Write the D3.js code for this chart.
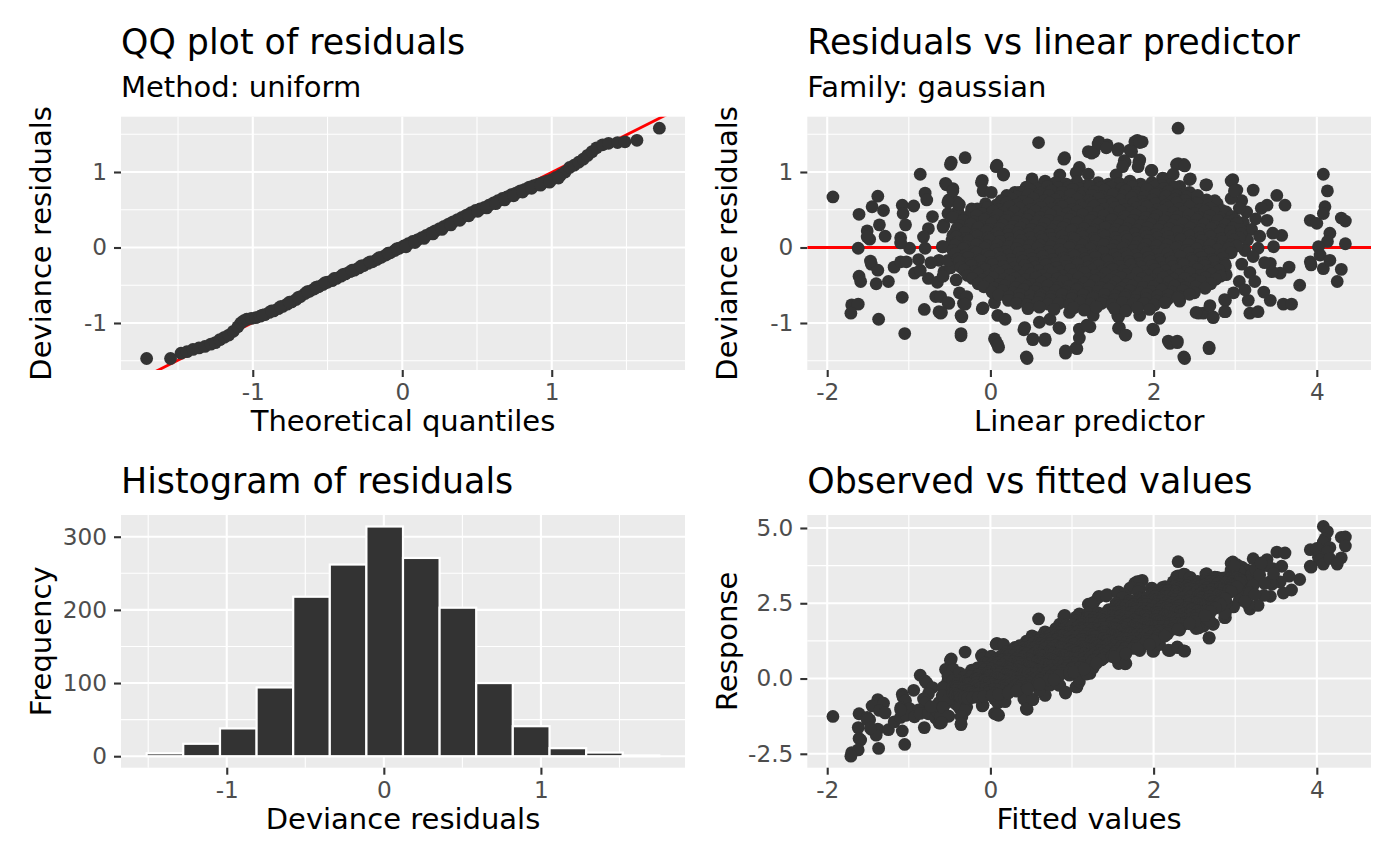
<!DOCTYPE html>
<html>
<head>
<meta charset="utf-8">
<script src="https://cdn.jsdelivr.net/npm/d3@7"></script>
<style>
  body { margin: 0; background: #fff; }
  text { font-family: "DejaVu Sans", sans-serif; }
</style>
</head>
<body>
<svg id="chart" width="1400" height="866"></svg>
<script>
// ---- Data ----

// QQ plot: [theoretical quantile, deviance residual]
const qqPoints = [
  [-1.71,-1.47],[-1.55,-1.47],[-1.48,-1.40],[-1.44,-1.38],[-1.40,-1.35],[-1.36,-1.33],[-1.32,-1.31],[-1.28,-1.28],
  [-1.25,-1.26],[-1.22,-1.22],[-1.19,-1.19],[-1.16,-1.16],[-1.13,-1.11],[-1.10,-1.05],[-1.08,-1.00],[-1.06,-0.97],
  [-1.04,-0.95],[-1.01,-0.94],[-0.98,-0.93],[-0.95,-0.91],[-0.92,-0.89],[-0.89,-0.86],[-0.86,-0.84],[-0.83,-0.81],
  [-0.80,-0.78],[-0.77,-0.75],[-0.74,-0.72],[-0.71,-0.69],[-0.68,-0.65],[-0.65,-0.61],[-0.62,-0.58],[-0.59,-0.55],
  [-0.56,-0.52],[-0.53,-0.49],[-0.50,-0.46],[-0.47,-0.44],[-0.44,-0.41],[-0.41,-0.38],[-0.38,-0.35],[-0.35,-0.32],
  [-0.32,-0.30],[-0.29,-0.27],[-0.26,-0.24],[-0.23,-0.21],[-0.20,-0.19],[-0.17,-0.16],[-0.14,-0.13],[-0.11,-0.10],
  [-0.08,-0.07],[-0.05,-0.04],[-0.02,-0.01],[0.01,0.02],[0.04,0.05],[0.07,0.08],[0.10,0.10],[0.13,0.13],
  [0.16,0.16],[0.19,0.19],[0.22,0.22],[0.25,0.25],[0.28,0.28],[0.31,0.31],[0.34,0.34],[0.37,0.37],
  [0.40,0.40],[0.43,0.43],[0.46,0.46],[0.49,0.49],[0.52,0.51],[0.55,0.53],[0.58,0.56],[0.61,0.59],
  [0.64,0.62],[0.67,0.65],[0.70,0.67],[0.73,0.70],[0.76,0.72],[0.79,0.75],[0.82,0.77],[0.85,0.80],
  [0.88,0.82],[0.91,0.84],[0.94,0.86],[0.97,0.88],[1.00,0.90],[1.03,0.93],[1.06,0.96],[1.09,1.00],
  [1.12,1.06],[1.15,1.09],[1.18,1.13],[1.21,1.17],[1.24,1.22],[1.27,1.27],[1.30,1.32],[1.34,1.36],
  [1.38,1.38],[1.44,1.39],[1.49,1.40],[1.57,1.42],[1.72,1.58],
  // points lying just off the main band
  [-0.935,-0.895],[-0.875,-0.84],[-0.815,-0.785],[-0.755,-0.725],[-0.695,-0.66],[-0.635,-0.585],[-0.575,-0.525],
  [-0.515,-0.465],[-0.455,-0.41],[-0.395,-0.355],[-0.335,-0.30],[-0.275,-0.245],[-0.215,-0.19],[-0.155,-0.135],
  [-0.095,-0.075],[-0.035,-0.015],
  [0.025,0.01],[0.085,0.065],[0.145,0.12],[0.205,0.18],[0.265,0.24],[0.325,0.30],[0.385,0.36],[0.445,0.42],
  [0.505,0.48],[0.565,0.525],[0.625,0.58],[0.685,0.63],[0.745,0.685],[0.805,0.735],[0.865,0.785],[0.925,0.825],
  [0.985,0.865],[1.045,0.92]
];
const qqLine = { intercept: 0, slope: 0.995 };

// Linear predictor (= fitted value) and deviance residual of each observation
const lpResid = [
  // sparse left and bottom / top edges
  [-1.93,0.67],[-1.61,0.44],[-1.38,0.68],[-1.45,0.54],[-1.31,0.49],[-1.51,0.22],[-1.36,0.30],[-1.48,0.11],[-1.29,0.15],[-1.62,-0.01],
  [-1.46,-0.22],[-1.38,-0.30],[-1.61,-0.38],[-1.59,-0.45],[-1.40,-0.48],[-1.25,-0.45],[-1.18,-0.26],[-1.10,-0.19],[-1.03,-0.19],[-1.70,-0.76],
  [-1.62,-0.75],[-1.71,-0.87],[-1.37,-0.95],[-1.08,-0.66],[-1.05,-1.14],[-0.86,0.97],[-1.08,0.56],[-0.94,0.55],[-1.07,0.45],[-1.04,0.30],
  [-1.10,0.13],[-0.99,-0.01],[-0.80,0.72],[-0.78,0.63],[-0.71,0.41],[-0.76,0.25],[-0.82,0.14],[-0.80,-0.01],[-0.88,-0.16],[-0.93,-0.34],
  [-0.86,-0.30],[-0.76,-0.41],[-0.67,-0.65],[-0.81,-0.82],[-0.61,-0.87],[-0.51,-0.74],[-0.48,1.13],[-0.31,1.19],[-0.55,0.85],[-0.46,0.78],
  [-0.51,0.63],[-0.41,0.60],[-0.57,0.30],[-0.45,0.41],[-0.59,0.01],[-0.63,-0.17],[-0.57,-0.32],[-0.65,-0.46],[-0.36,-1.17],[-0.33,-0.74],
  [-0.35,-0.92],[-0.10,0.89],[0.08,1.09],[0.16,0.96],[-0.10,-0.81],[0.07,-1.25],[0.10,-1.32],[0.59,1.39],[0.45,-1.47],[0.41,-1.09],
  [0.52,-1.22],[0.67,-1.23],[0.85,-1.07],[0.92,-1.40],[1.06,-1.34],[0.91,1.19],[1.20,1.27],
  [-0.42,0.22],[-0.47,0.10],[-0.44,-0.08],[-0.49,-0.27],[-0.42,-0.43],[-0.38,-0.60],[-0.40,0.48],[-0.52,0.45],
  [-0.73,-0.20],[-0.63,-0.85],[-0.61,-0.65],[-0.29,-0.65],[-1.51,0.14],[-1.10,0.06],[-1.47,-0.18],
  // right side and upper / lower tails
  [2.30,1.58],[1.80,1.42],[1.86,1.40],[1.33,1.40],[1.43,1.36],[1.57,1.31],[1.27,1.27],[1.71,1.29],[1.65,1.13],[1.82,1.13],
  [2.30,1.11],[2.37,1.10],[1.98,1.02],[2.14,0.91],[2.45,0.91],[2.65,0.83],[2.97,0.90],[3.02,0.76],[3.22,0.76],[3.51,0.69],
  [3.61,0.56],[3.39,0.56],[4.08,0.97],[4.13,0.75],[4.10,0.54],[4.08,0.45],[3.92,0.36],[4.00,0.32],[4.30,0.39],[4.35,0.35],
  [4.16,0.19],[4.13,0.08],[4.35,0.05],[4.02,0.01],[4.04,-0.10],[3.92,-0.19],[3.93,-0.23],[4.08,-0.28],[4.16,-0.17],[4.30,-0.29],
  [4.25,-0.45],[3.79,-0.50],[3.59,-0.75],[3.69,-0.75],[3.43,-0.70],[3.35,-0.59],[3.66,-0.26],[3.55,-0.34],[3.45,-0.32],[3.43,-0.21],
  [3.57,0.16],[3.46,0.19],[3.39,0.36],[3.47,0.01],[3.28,-0.01],[3.18,-0.87],[3.28,-0.85],[3.16,-0.70],[2.88,-0.85],[2.88,-0.70],
  [2.73,-0.92],[2.61,-0.87],[2.55,-0.87],[2.68,-1.34],[2.38,-1.47],[2.20,-1.27],[2.29,-1.26],[2.00,-1.09],[2.07,-0.94],[1.65,-1.16],
  [1.57,-1.07],[1.57,-0.92],[1.22,-1.05],
  [3.08,0.62],[3.14,0.47],[3.10,0.33],[3.20,0.24],[3.15,0.10],[3.25,0.38],[3.30,0.15],[3.12,-0.04],[3.22,-0.12],[3.08,-0.22],
  [3.18,-0.33],[3.05,-0.45],[3.12,-0.56],[2.98,-0.60],[3.32,0.52],[3.36,-0.20],[3.24,-0.45],[2.95,0.65],[3.05,0.52],
  // ragged border of the dense cloud
  [-0.49,1.10],[0.07,1.07],[0.16,0.97],[0.90,1.17],[1.32,1.37],[1.42,1.32],[1.56,1.29],[1.24,1.25],[1.77,1.40],[1.83,1.39],
  [1.73,1.27],[1.64,1.15],[1.62,1.07],[1.83,1.16],[1.81,1.07],[1.97,1.02],[1.54,0.96],[1.09,1.06],[1.05,0.99],[1.20,0.97],
  [0.85,0.96],[0.51,0.91],[0.67,0.88],[2.28,1.10],[2.38,1.08],[2.11,0.92],[2.24,0.97],[2.20,0.83],[2.32,0.81],[2.44,0.90],
  [2.64,0.83],[2.75,0.62],[2.95,0.88],[2.99,0.75],[-0.11,0.86],[-0.09,0.75],[0.01,0.73],[-0.54,0.83],[-0.46,0.75],[0.30,0.73],
  [-0.52,0.60],[-0.38,0.57],[-0.46,0.40],[-0.58,0.27],[-0.46,0.16],[-0.58,0.01],[-0.52,-0.17],[-0.58,-0.38],[-0.52,-0.73],[-0.60,-0.86],
  [-0.31,-0.75],[-0.36,-0.90],[-0.36,-1.14],[-0.23,0.51],[-0.09,-0.80],[0.05,-0.73],[0.09,-0.90],[0.18,-0.95],[0.05,-1.21],[0.09,-1.29],
  [0.42,-1.06],[0.44,-1.45],[0.52,-1.21],[0.67,-1.21],[0.60,-0.99],[0.73,-0.95],[0.84,-1.06],[0.92,-1.37],[1.05,-1.33],[1.09,-1.20],
  [1.09,-1.08],[1.18,-1.03],[0.97,-0.86],[1.26,-0.90],[1.56,-0.90],[1.58,-1.06],[1.66,-1.16],[1.83,-0.90],[1.99,-1.08],[2.07,-0.93],
  [2.18,-1.24],[2.29,-1.24],[2.37,-1.45],[2.68,-1.32],[2.32,-0.71],[2.52,-0.86],[2.73,-0.93],[2.87,-0.85],[2.69,-0.77],[2.87,-0.69],
  [2.89,-0.36],[0.80,0.86],[0.93,0.84],[1.32,0.86],[1.45,0.84],
  // dense core
  [0.52,0.86],[0.66,0.84],[1.06,0.87],[1.19,0.83],[1.58,0.85],[1.71,0.88],[1.84,0.84],[1.98,0.86],[2.10,0.82],
  [0.44,0.80],[0.57,0.78],[0.70,0.81],[0.83,0.79],[0.96,0.80],[1.09,0.78],[1.22,0.81],[1.35,0.79],[1.48,0.80],[1.61,0.78],
  [1.74,0.81],[1.87,0.79],[2.00,0.80],[2.13,0.78],[2.26,0.80],
  [0.36,0.73],[0.49,0.76],[0.61,0.72],[0.75,0.75],[0.88,0.73],[1.01,0.77],[1.13,0.72],[1.27,0.74],[1.40,0.76],[1.52,0.71],
  [1.66,0.75],[1.79,0.73],[1.92,0.77],[2.04,0.72],[2.18,0.74],[2.31,0.70],[2.44,0.73],
  [0.20,0.69],[0.33,0.67],[0.46,0.70],[0.59,0.68],[0.72,0.69],[0.85,0.67],[0.98,0.70],[1.11,0.68],[1.24,0.69],[1.37,0.67],
  [1.50,0.70],[1.63,0.68],[1.76,0.69],[1.89,0.67],[2.02,0.70],[2.15,0.68],[2.28,0.69],[2.41,0.67],[2.54,0.69],
  [0.13,0.62],[0.27,0.64],[0.40,0.61],[0.53,0.65],[0.67,0.62],[0.80,0.63],[0.93,0.60],[1.07,0.64],[1.20,0.62],[1.33,0.65],
  [1.46,0.61],[1.60,0.63],[1.73,0.66],[1.86,0.61],[1.99,0.63],[2.12,0.60],[2.26,0.64],[2.39,0.62],[2.52,0.59],[2.65,0.63],
  [-0.06,0.58],[0.07,0.56],[0.20,0.59],[0.33,0.57],[0.46,0.58],[0.59,0.56],[0.72,0.59],[0.85,0.57],[0.98,0.58],[1.11,0.56],
  [1.24,0.59],[1.37,0.57],[1.50,0.58],[1.63,0.56],[1.76,0.59],[1.89,0.57],[2.02,0.58],[2.15,0.56],[2.28,0.59],[2.41,0.57],
  [2.54,0.58],[2.67,0.56],[2.78,0.58],
  [-0.16,0.51],[-0.03,0.53],[0.10,0.50],[0.23,0.54],[0.36,0.52],[0.49,0.50],[0.62,0.53],[0.75,0.51],[0.88,0.54],[1.01,0.50],
  [1.14,0.52],[1.27,0.55],[1.40,0.51],[1.53,0.53],[1.66,0.50],[1.79,0.52],[1.92,0.54],[2.05,0.50],[2.18,0.53],[2.31,0.51],
  [2.44,0.54],[2.57,0.50],[2.70,0.52],[2.84,0.49],
  [-0.23,0.47],[-0.10,0.45],[0.03,0.48],[0.16,0.46],[0.29,0.47],[0.42,0.45],[0.55,0.48],[0.68,0.46],[0.81,0.47],[0.94,0.45],
  [1.07,0.48],[1.20,0.46],[1.33,0.47],[1.46,0.45],[1.59,0.48],[1.72,0.46],[1.85,0.47],[1.98,0.45],[2.11,0.48],[2.24,0.46],
  [2.37,0.47],[2.50,0.45],[2.63,0.48],[2.76,0.46],[2.89,0.47],
  [-0.30,0.40],[-0.17,0.42],[-0.04,0.39],[0.09,0.43],[0.22,0.41],[0.35,0.39],[0.48,0.42],[0.61,0.40],[0.74,0.43],[0.87,0.39],
  [1.00,0.41],[1.13,0.44],[1.26,0.40],[1.39,0.42],[1.52,0.39],[1.65,0.41],[1.78,0.43],[1.91,0.40],[2.04,0.42],[2.17,0.39],
  [2.30,0.41],[2.43,0.43],[2.56,0.40],[2.69,0.42],[2.82,0.39],[2.96,0.41],
  [-0.33,0.36],[-0.20,0.34],[-0.07,0.37],[0.06,0.35],[0.19,0.36],[0.32,0.34],[0.45,0.37],[0.58,0.35],[0.71,0.36],[0.84,0.34],
  [0.97,0.37],[1.10,0.35],[1.23,0.36],[1.36,0.34],[1.49,0.37],[1.62,0.35],[1.75,0.36],[1.88,0.34],[2.01,0.37],[2.14,0.35],
  [2.27,0.36],[2.40,0.34],[2.53,0.37],[2.66,0.35],[2.79,0.36],[2.92,0.34],[3.00,0.37],
  [-0.38,0.29],[-0.24,0.31],[-0.11,0.28],[0.02,0.32],[0.15,0.30],[0.28,0.28],[0.41,0.31],[0.54,0.29],[0.67,0.32],[0.80,0.28],
  [0.93,0.30],[1.06,0.33],[1.19,0.29],[1.32,0.31],[1.45,0.28],[1.58,0.30],[1.71,0.32],[1.84,0.29],[1.97,0.31],[2.10,0.28],
  [2.23,0.30],[2.36,0.32],[2.49,0.29],[2.62,0.31],[2.75,0.28],[2.88,0.30],[3.02,0.32],
  [-0.41,0.25],[-0.28,0.23],[-0.15,0.26],[-0.02,0.24],[0.11,0.25],[0.24,0.23],[0.37,0.26],[0.50,0.24],[0.63,0.25],[0.76,0.23],
  [0.89,0.26],[1.02,0.24],[1.15,0.25],[1.28,0.23],[1.41,0.26],[1.54,0.24],[1.67,0.25],[1.80,0.23],[1.93,0.26],[2.06,0.24],
  [2.19,0.25],[2.32,0.23],[2.45,0.26],[2.58,0.24],[2.71,0.25],[2.84,0.23],[2.97,0.26],[3.06,0.24],
  [-0.44,0.18],[-0.31,0.20],[-0.18,0.17],[-0.05,0.21],[0.08,0.19],[0.21,0.17],[0.34,0.20],[0.47,0.18],[0.60,0.21],[0.73,0.17],
  [0.86,0.19],[0.99,0.22],[1.12,0.18],[1.25,0.20],[1.38,0.17],[1.51,0.19],[1.64,0.21],[1.77,0.18],[1.90,0.20],[2.03,0.17],
  [2.16,0.19],[2.29,0.21],[2.42,0.18],[2.55,0.20],[2.68,0.17],[2.81,0.19],[2.94,0.21],[3.07,0.18],
  [-0.42,0.14],[-0.29,0.12],[-0.16,0.15],[-0.03,0.13],[0.10,0.14],[0.23,0.12],[0.36,0.15],[0.49,0.13],[0.62,0.14],[0.75,0.12],
  [0.88,0.15],[1.01,0.13],[1.14,0.14],[1.27,0.12],[1.40,0.15],[1.53,0.13],[1.66,0.14],[1.79,0.12],[1.92,0.15],[2.05,0.13],
  [2.18,0.14],[2.31,0.12],[2.44,0.15],[2.57,0.13],[2.70,0.14],[2.83,0.12],[2.96,0.15],[3.05,0.13],
  [-0.40,0.07],[-0.27,0.09],[-0.14,0.06],[-0.01,0.10],[0.12,0.08],[0.25,0.06],[0.38,0.09],[0.51,0.07],[0.64,0.10],[0.77,0.06],
  [0.90,0.08],[1.03,0.11],[1.16,0.07],[1.29,0.09],[1.42,0.06],[1.55,0.08],[1.68,0.10],[1.81,0.07],[1.94,0.09],[2.07,0.06],
  [2.20,0.08],[2.33,0.10],[2.46,0.07],[2.59,0.09],[2.72,0.06],[2.85,0.08],[2.98,0.10],
  [-0.43,0.03],[-0.30,0.01],[-0.17,0.04],[-0.04,0.02],[0.09,0.03],[0.22,0.01],[0.35,0.04],[0.48,0.02],[0.61,0.03],[0.74,0.01],
  [0.87,0.04],[1.00,0.02],[1.13,0.03],[1.26,0.01],[1.39,0.04],[1.52,0.02],[1.65,0.03],[1.78,0.01],[1.91,0.04],[2.04,0.02],
  [2.17,0.03],[2.30,0.01],[2.43,0.04],[2.56,0.02],[2.69,0.03],[2.82,0.01],[2.95,0.04],[3.02,0.02],
  [-0.46,-0.04],[-0.33,-0.02],[-0.20,-0.05],[-0.07,-0.01],[0.06,-0.03],[0.19,-0.05],[0.32,-0.02],[0.45,-0.04],[0.58,-0.01],[0.71,-0.05],
  [0.84,-0.03],[0.97,0.00],[1.10,-0.04],[1.23,-0.02],[1.36,-0.05],[1.49,-0.03],[1.62,-0.01],[1.75,-0.04],[1.88,-0.02],[2.01,-0.05],
  [2.14,-0.03],[2.27,-0.01],[2.40,-0.04],[2.53,-0.02],[2.66,-0.05],[2.79,-0.03],[2.92,-0.01],
  [-0.43,-0.08],[-0.30,-0.10],[-0.17,-0.07],[-0.04,-0.09],[0.09,-0.08],[0.22,-0.10],[0.35,-0.07],[0.48,-0.09],[0.61,-0.08],[0.74,-0.10],
  [0.87,-0.07],[1.00,-0.09],[1.13,-0.08],[1.26,-0.10],[1.39,-0.07],[1.52,-0.09],[1.65,-0.08],[1.78,-0.10],[1.91,-0.07],[2.04,-0.09],
  [2.17,-0.08],[2.30,-0.10],[2.43,-0.07],[2.56,-0.09],[2.69,-0.08],[2.82,-0.10],[2.95,-0.07],
  [-0.40,-0.15],[-0.27,-0.13],[-0.14,-0.16],[-0.01,-0.12],[0.12,-0.14],[0.25,-0.16],[0.38,-0.13],[0.51,-0.15],[0.64,-0.12],[0.77,-0.16],
  [0.90,-0.14],[1.03,-0.11],[1.16,-0.15],[1.29,-0.13],[1.42,-0.16],[1.55,-0.14],[1.68,-0.12],[1.81,-0.15],[1.94,-0.13],[2.07,-0.16],
  [2.20,-0.14],[2.33,-0.12],[2.46,-0.15],[2.59,-0.13],[2.72,-0.16],[2.85,-0.14],
  [-0.38,-0.19],[-0.25,-0.21],[-0.12,-0.18],[0.01,-0.20],[0.14,-0.19],[0.27,-0.21],[0.40,-0.18],[0.53,-0.20],[0.66,-0.19],[0.79,-0.21],
  [0.92,-0.18],[1.05,-0.20],[1.18,-0.19],[1.31,-0.21],[1.44,-0.18],[1.57,-0.20],[1.70,-0.19],[1.83,-0.21],[1.96,-0.18],[2.09,-0.20],
  [2.22,-0.19],[2.35,-0.21],[2.48,-0.18],[2.61,-0.20],[2.74,-0.19],[2.87,-0.21],
  [-0.36,-0.26],[-0.23,-0.24],[-0.10,-0.27],[0.03,-0.23],[0.16,-0.25],[0.29,-0.27],[0.42,-0.24],[0.55,-0.26],[0.68,-0.23],[0.81,-0.27],
  [0.94,-0.25],[1.07,-0.22],[1.20,-0.26],[1.33,-0.24],[1.46,-0.27],[1.59,-0.25],[1.72,-0.23],[1.85,-0.26],[1.98,-0.24],[2.11,-0.27],
  [2.24,-0.25],[2.37,-0.23],[2.50,-0.26],[2.63,-0.24],[2.76,-0.27],[2.88,-0.24],
  [-0.32,-0.30],[-0.19,-0.32],[-0.06,-0.29],[0.07,-0.31],[0.20,-0.30],[0.33,-0.32],[0.46,-0.29],[0.59,-0.31],[0.72,-0.30],[0.85,-0.32],
  [0.98,-0.29],[1.11,-0.31],[1.24,-0.30],[1.37,-0.32],[1.50,-0.29],[1.63,-0.31],[1.76,-0.30],[1.89,-0.32],[2.02,-0.29],[2.15,-0.31],
  [2.28,-0.30],[2.41,-0.32],[2.54,-0.29],[2.67,-0.31],[2.80,-0.30],
  [-0.28,-0.37],[-0.15,-0.35],[-0.02,-0.38],[0.11,-0.34],[0.24,-0.36],[0.37,-0.38],[0.50,-0.35],[0.63,-0.37],[0.76,-0.34],[0.89,-0.38],
  [1.02,-0.36],[1.15,-0.33],[1.28,-0.37],[1.41,-0.35],[1.54,-0.38],[1.67,-0.36],[1.80,-0.34],[1.93,-0.37],[2.06,-0.35],[2.19,-0.38],
  [2.32,-0.36],[2.45,-0.34],[2.58,-0.37],[2.71,-0.35],[2.82,-0.38],
  [-0.22,-0.41],[-0.09,-0.43],[0.04,-0.40],[0.17,-0.42],[0.30,-0.41],[0.43,-0.43],[0.56,-0.40],[0.69,-0.42],[0.82,-0.41],[0.95,-0.43],
  [1.08,-0.40],[1.21,-0.42],[1.34,-0.41],[1.47,-0.43],[1.60,-0.40],[1.73,-0.42],[1.86,-0.41],[1.99,-0.43],[2.12,-0.40],[2.25,-0.42],
  [2.38,-0.41],[2.51,-0.43],[2.64,-0.40],[2.76,-0.42],
  [-0.15,-0.48],[-0.02,-0.46],[0.11,-0.49],[0.24,-0.45],[0.37,-0.47],[0.50,-0.49],[0.63,-0.46],[0.76,-0.48],[0.89,-0.45],[1.02,-0.49],
  [1.15,-0.47],[1.28,-0.44],[1.41,-0.48],[1.54,-0.46],[1.67,-0.49],[1.80,-0.47],[1.93,-0.45],[2.06,-0.48],[2.19,-0.46],[2.32,-0.49],
  [2.45,-0.47],[2.58,-0.45],[2.70,-0.48],
  [-0.08,-0.52],[0.05,-0.54],[0.18,-0.51],[0.31,-0.53],[0.44,-0.52],[0.57,-0.54],[0.70,-0.51],[0.83,-0.53],[0.96,-0.52],[1.09,-0.54],
  [1.22,-0.51],[1.35,-0.53],[1.48,-0.52],[1.61,-0.54],[1.74,-0.51],[1.87,-0.53],[2.00,-0.52],[2.13,-0.54],[2.26,-0.51],[2.39,-0.53],
  [2.52,-0.52],[2.63,-0.54],
  [0.02,-0.59],[0.15,-0.57],[0.28,-0.60],[0.41,-0.56],[0.54,-0.58],[0.67,-0.60],[0.80,-0.57],[0.93,-0.59],[1.06,-0.56],[1.19,-0.60],
  [1.32,-0.58],[1.45,-0.55],[1.58,-0.59],[1.71,-0.57],[1.84,-0.60],[1.97,-0.58],[2.10,-0.56],[2.23,-0.59],[2.36,-0.57],[2.50,-0.60],
  [0.10,-0.63],[0.23,-0.65],[0.36,-0.62],[0.49,-0.64],[0.62,-0.63],[0.75,-0.65],[0.88,-0.62],[1.01,-0.64],[1.14,-0.63],[1.27,-0.65],
  [1.40,-0.62],[1.53,-0.64],[1.66,-0.63],[1.79,-0.65],[1.92,-0.62],[2.05,-0.64],[2.18,-0.63],[2.31,-0.65],[2.44,-0.62],
  [0.22,-0.70],[0.35,-0.68],[0.48,-0.71],[0.61,-0.67],[0.74,-0.69],[0.87,-0.71],[1.00,-0.68],[1.13,-0.70],[1.26,-0.67],[1.39,-0.71],
  [1.52,-0.69],[1.65,-0.66],[1.78,-0.70],[1.91,-0.68],[2.04,-0.71],[2.17,-0.69],[2.30,-0.67],
  [0.32,-0.74],[0.45,-0.76],[0.58,-0.73],[0.71,-0.75],[0.84,-0.74],[0.97,-0.76],[1.10,-0.73],[1.23,-0.75],[1.36,-0.74],[1.49,-0.76],
  [1.62,-0.73],[1.75,-0.75],[1.88,-0.74],[2.01,-0.76],[2.14,-0.73],
  [0.46,-0.81],[0.60,-0.79],[0.78,-0.82],[1.02,-0.80],[1.15,-0.83],[1.30,-0.79],[1.52,-0.81],[1.66,-0.84],[1.80,-0.80],[1.95,-0.82]
];

// Histogram of residuals: bin edges and counts
const histEdges = [-1.510,-1.277,-1.043,-0.810,-0.577,-0.344,-0.111,0.122,0.355,0.588,0.821,1.055,1.288,1.521,1.754];
const histCounts = [4,17,38,94,218,262,314,271,203,100,41,11,5,1];

// Tick values
const residTicks = [-1, 0, 1];
const qqTicks = [-1, 0, 1];
const lpTicks = [-2, 0, 2, 4];
const histTicks = [-1, 0, 1];
const freqTicks = [0, 100, 200, 300];
const respTicks = [-2.5, 0, 2.5, 5];

// ---- Layout and style ----
const boxes = {
  qq:   { left: 121,   top: 116.7, width: 564,   height: 253.3 },
  rvl:  { left: 807.3, top: 116.7, width: 563.7, height: 253.3 },
  hist: { left: 121,   top: 515,   width: 564,   height: 252.7 },
  ovf:  { left: 807.3, top: 515,   width: 563.7, height: 252.7 }
};
const style = {
  panelBg: "#EBEBEB",
  majorWidth: 2.1,
  minorWidth: 1.1,
  ink: "#333333",
  tickText: "#4D4D4D",
  titleSize: 34.8,
  labelSize: 29,
  tickSize: 23.2,
  pointR: 6.4,
  red: "#FF0000",
  redWidth: 2.8
};

const svg = d3.select("#chart");
const defs = svg.append("defs");

const fmtInt = d => String(d);
const fmt1 = d => d.toFixed(1);

// ggplot-like 5% expansion of a continuous range
function expand([a, b]) {
  const pad = (b - a) * 0.05;
  return [a - pad, b + pad];
}

// minor breaks halfway between major breaks (also one half step beyond the ends)
function minorBreaks(ticks, domain) {
  const step = ticks[1] - ticks[0];
  const out = [];
  for (let i = -1; i < ticks.length; i++) {
    const v = (i < 0 ? ticks[0] - step : ticks[i]) + step / 2;
    if (v > domain[0] && v < domain[1]) out.push(v);
  }
  return out;
}

function styleAxis(ax) {
  ax.select(".domain").remove();
  ax.selectAll(".tick line").attr("stroke", style.ink).attr("stroke-width", style.majorWidth);
  ax.selectAll(".tick text")
    .attr("fill", style.tickText)
    .attr("font-size", style.tickSize)
    .attr("font-family", "DejaVu Sans, sans-serif");
}

function makePanel(id, box, xDomain, yDomain, xTicks, yTicks, fmtX, fmtY, labels) {
  const x = d3.scaleLinear().domain(xDomain).range([0, box.width]);
  const y = d3.scaleLinear().domain(yDomain).range([box.height, 0]);
  const g = svg.append("g").attr("transform", `translate(${box.left},${box.top})`);

  g.append("rect").attr("width", box.width).attr("height", box.height).attr("fill", style.panelBg);

  const grid = g.append("g").attr("stroke", "#fff");
  grid.selectAll(".mx").data(minorBreaks(xTicks, xDomain)).enter().append("line")
    .attr("x1", d => x(d)).attr("x2", d => x(d)).attr("y1", 0).attr("y2", box.height)
    .attr("stroke-width", style.minorWidth);
  grid.selectAll(".my").data(minorBreaks(yTicks, yDomain)).enter().append("line")
    .attr("y1", d => y(d)).attr("y2", d => y(d)).attr("x1", 0).attr("x2", box.width)
    .attr("stroke-width", style.minorWidth);
  grid.selectAll(".Mx").data(xTicks).enter().append("line")
    .attr("x1", d => x(d)).attr("x2", d => x(d)).attr("y1", 0).attr("y2", box.height)
    .attr("stroke-width", style.majorWidth);
  grid.selectAll(".My").data(yTicks).enter().append("line")
    .attr("y1", d => y(d)).attr("y2", d => y(d)).attr("x1", 0).attr("x2", box.width)
    .attr("stroke-width", style.majorWidth);

  const xAxis = g.append("g").attr("transform", `translate(0,${box.height})`)
    .call(d3.axisBottom(x).tickValues(xTicks).tickFormat(fmtX).tickSize(7).tickPadding(6.8));
  styleAxis(xAxis);
  const yAxis = g.append("g")
    .call(d3.axisLeft(y).tickValues(yTicks).tickFormat(fmtY).tickSize(7).tickPadding(7));
  styleAxis(yAxis);

  // titles
  svg.append("text")
    .attr("x", box.left).attr("y", box.top - (labels.subtitle ? 62.4 : 21.7))
    .attr("font-size", style.titleSize).attr("fill", "#000").text(labels.title);
  if (labels.subtitle) {
    svg.append("text")
      .attr("x", box.left).attr("y", box.top - 20)
      .attr("font-size", style.labelSize).attr("fill", "#000").text(labels.subtitle);
  }
  svg.append("text")
    .attr("x", box.left + box.width / 2).attr("y", box.top + box.height + 61)
    .attr("text-anchor", "middle").attr("font-size", style.labelSize).attr("fill", "#000")
    .text(labels.x);
  svg.append("text")
    .attr("transform", `translate(${box.left - 70.5},${box.top + box.height / 2}) rotate(-90)`)
    .attr("text-anchor", "middle").attr("font-size", style.labelSize).attr("fill", "#000")
    .text(labels.y);

  defs.append("clipPath").attr("id", id).append("rect")
    .attr("width", box.width).attr("height", box.height);
  const plot = g.append("g").attr("clip-path", `url(#${id})`);
  return { x, y, plot };
}

function drawPoints(plot, data, x, y) {
  plot.selectAll("circle").data(data).enter().append("circle")
    .attr("cx", d => x(d[0])).attr("cy", d => y(d[1]))
    .attr("r", style.pointR).attr("fill", style.ink);
}

// ---- Panel 1: QQ plot ----
{
  const xd = expand(d3.extent(qqPoints, d => d[0]));
  const yd = expand(d3.extent(qqPoints, d => d[1]));
  const p = makePanel("clip-qq", boxes.qq, xd, yd, qqTicks, residTicks, fmtInt, fmtInt, {
    title: "QQ plot of residuals", subtitle: "Method: uniform",
    x: "Theoretical quantiles", y: "Deviance residuals"
  });
  p.plot.append("line")
    .attr("x1", p.x(xd[0])).attr("y1", p.y(qqLine.intercept + qqLine.slope * xd[0]))
    .attr("x2", p.x(xd[1])).attr("y2", p.y(qqLine.intercept + qqLine.slope * xd[1]))
    .attr("stroke", style.red).attr("stroke-width", style.redWidth);
  drawPoints(p.plot, qqPoints, p.x, p.y);
}

// ---- Panel 2: residuals vs linear predictor ----
{
  const xd = expand(d3.extent(lpResid, d => d[0]));
  const yd = expand(d3.extent(lpResid, d => d[1]));
  const p = makePanel("clip-rvl", boxes.rvl, xd, yd, lpTicks, residTicks, fmtInt, fmtInt, {
    title: "Residuals vs linear predictor", subtitle: "Family: gaussian",
    x: "Linear predictor", y: "Deviance residuals"
  });
  p.plot.append("line")
    .attr("x1", 0).attr("x2", boxes.rvl.width).attr("y1", p.y(0)).attr("y2", p.y(0))
    .attr("stroke", style.red).attr("stroke-width", style.redWidth);
  drawPoints(p.plot, lpResid, p.x, p.y);
}

// ---- Panel 3: histogram ----
{
  const bins = histCounts.map((c, i) => ({ x0: histEdges[i], x1: histEdges[i + 1], count: c }));
  const xd = expand([histEdges[0], histEdges[histEdges.length - 1]]);
  const yd = expand([0, d3.max(histCounts)]);
  const p = makePanel("clip-hist", boxes.hist, xd, yd, histTicks, freqTicks, fmtInt, fmtInt, {
    title: "Histogram of residuals", x: "Deviance residuals", y: "Frequency"
  });
  p.plot.selectAll("rect.bar").data(bins).enter().append("rect")
    .attr("class", "bar")
    .attr("x", d => p.x(d.x0)).attr("width", d => p.x(d.x1) - p.x(d.x0))
    .attr("y", d => p.y(d.count)).attr("height", d => p.y(0) - p.y(d.count))
    .attr("fill", style.ink).attr("stroke", "#fff").attr("stroke-width", 2.2);
}

// ---- Panel 4: observed vs fitted ----
{
  // gaussian family, identity link: response = fitted + residual
  const obsFit = lpResid.map(d => [d[0], d[0] + d[1]]);
  const xd = expand(d3.extent(obsFit, d => d[0]));
  const yd = expand(d3.extent(obsFit, d => d[1]));
  const p = makePanel("clip-ovf", boxes.ovf, xd, yd, lpTicks, respTicks, fmtInt, fmt1, {
    title: "Observed vs fitted values", x: "Fitted values", y: "Response"
  });
  drawPoints(p.plot, obsFit, p.x, p.y);
}
</script>
</body>
</html>
